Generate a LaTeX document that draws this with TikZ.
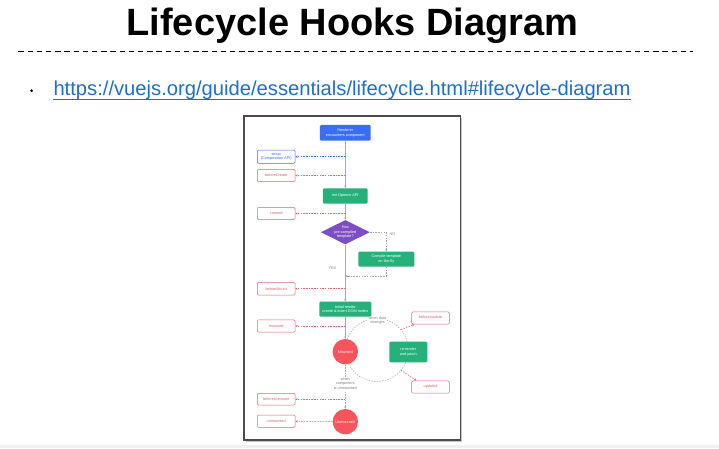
\documentclass[tikz,border=0pt]{standalone}
\usepackage{fontspec}
\setmainfont{Liberation Sans}
\usetikzlibrary{shapes.geometric,arrows.meta}
\definecolor{vueblue}{RGB}{59,108,244}
\definecolor{vuegreen}{RGB}{38,176,122}
\definecolor{vuepurple}{RGB}{124,77,196}
\definecolor{vuered}{RGB}{248,84,92}
\definecolor{hookred}{RGB}{226,100,108}
\definecolor{linegray}{RGB}{160,170,180}
\definecolor{urlblue}{RGB}{30,110,205}
\begin{document}
\begin{tikzpicture}[x=1pt,y=-1pt,>={Stealth[length=2.4pt,width=2.2pt]},
    tiny/.style={font=\fontsize{3.8}{4.5}\selectfont, align=center, inner sep=0pt},
    hookbox/.style={tiny, draw=hookred, fill=white, text=hookred, line width=0.5pt,
        rounded corners=1.2pt, minimum width=37.7pt, minimum height=12.4pt},
    setupbox/.style={hookbox, draw=vueblue, text=vueblue},
    stepbox/.style={tiny, fill=#1, text=white, rounded corners=1.2pt},
    statecirc/.style={tiny, circle, fill=vuered, text=white, minimum size=25.4pt},
    mainline/.style={draw=linegray, line width=0.6pt, ->},
    grayline/.style={draw=linegray, line width=0.5pt, dash pattern=on 1.5pt off 1.2pt},
    hookline/.style={draw=hookred, line width=0.5pt, dash pattern=on 1.5pt off 1.2pt, ->},
    note/.style={tiny, text=gray, fill=white, inner sep=0.6pt}]
    \useasboundingbox (0,0) rectangle (719,448);
    \fill[gray!12] (0,445) rectangle (719,448);
    % slide heading
    \node[font=\fontsize{38}{40}\selectfont\bfseries, anchor=base] (title) at (352.5,35.7) {Lifecycle Hooks Diagram};
    \draw[line width=1.3pt, dash pattern=on 5.5pt off 3.7pt] (18.3,51.7) -- (693,51.7);
    \fill (31.7,90.7) circle (1.5pt);
    \node[font=\fontsize{20.2}{24}\selectfont, text=urlblue, anchor=base west, inner sep=0pt] (url) at (53.3,95)
        {https://vuejs.org/guide/essentials/lifecycle.html\#lifecycle-diagram};
    \draw[urlblue, line width=0.9pt] ([yshift=-4.3pt]url.base west) -- ([yshift=-4.3pt]url.base east);
    % picture frame
    \fill[gray!45] (245.5,117.5) rectangle (462.2,441.5);
    \draw[fill=white, draw=black!70, line width=1.1pt] (244,116) rectangle (460.7,440);
    % update cycle
    \coordinate (cyclemid) at (376.8,350);
    \draw[grayline] (cyclemid) circle (31.5pt);
    \node[note] (datalbl) at (377.5,320.5) {when data\\changes};
    % steps
    \node[stepbox=vueblue, minimum width=50.7pt, minimum height=15.7pt] (renderer) at (345.3,132.8) {Renderer\\encounters component};
    \node[setupbox, minimum height=13.3pt] (setup) at (276.2,156.7) {setup\\(Composition API)};
    \node[hookbox] (beforecreate) at (276.2,175.5) {beforeCreate};
    \node[stepbox=vuegreen, minimum width=44.7pt, minimum height=15.4pt] (initapi) at (345.3,196) {Init Options API};
    \node[hookbox] (created) at (276.2,213.5) {created};
    \node[tiny, diamond, aspect=2, fill=vuepurple, text=white, minimum width=49pt, minimum height=24.3pt] (hastpl) at (345.3,232.2) {Has\\pre-compiled\\template?};
    \node[stepbox=vuegreen, minimum width=56pt, minimum height=15pt] (compile) at (386.3,259.2) {Compile template\\on-the-fly};
    \coordinate (rejoin) at (345.3,276);
    \node[hookbox, minimum height=12.7pt] (beforemount) at (276.2,288.7) {beforeMount};
    \node[stepbox=vuegreen, minimum width=52pt, minimum height=15pt] (initrender) at (345.3,309.2) {Initial render\\create \& insert DOM nodes};
    \node[hookbox] (mountedhook) at (276.2,326) {mounted};
    \node[statecirc] (mountedst) at (345.3,351.7) {Mounted};
    \node[stepbox=vuegreen, minimum width=38pt, minimum height=20.6pt] (rerender) at (408.3,352) {re-render\\and patch};
    \node[hookbox] (beforeupdate) at (430.5,318) {beforeUpdate};
    \node[hookbox] (updated) at (430.5,387) {updated};
    \node[hookbox, minimum height=11.7pt] (beforeunmount) at (276.2,399.2) {beforeUnmount};
    \node[statecirc] (unmountedst) at (345.3,421.7) {Unmounted};
    \node[hookbox] (unmountedhook) at (276.2,421.2) {unmounted};
    % main flow
    \draw[mainline] (renderer) -- (initapi);
    \draw[mainline] (initapi) -- (hastpl);
    \draw[mainline] (hastpl) -- node[tiny, text=gray, pos=0.42, xshift=-13pt] {YES} (initrender);
    \draw[mainline] (initrender) -- (mountedst);
    \draw[grayline, ->] (hastpl.east) -| node[tiny, text=gray, pos=0.5, anchor=north west, xshift=3pt] {NO} (compile.north);
    \draw[grayline, ->] (compile.south) |- (rejoin);
    \draw[grayline, ->] (mountedst) -- node[note, pos=0.42] {when\\component\\is unmounted} (unmountedst);
    % hooks
    \draw[hookline, draw=vueblue] (renderer |- setup) -- (setup);
    \draw[hookline] (renderer |- beforecreate) -- (beforecreate);
    \draw[hookline] (renderer |- created) -- (created);
    \draw[hookline] (renderer |- beforemount) -- (beforemount);
    \draw[hookline] (renderer |- mountedhook) -- (mountedhook);
    \draw[hookline] (renderer |- beforeunmount) -- (beforeunmount);
    \draw[hookline] (unmountedst) -- (unmountedhook);
    \coordinate (updfrom) at ([shift={(40:31.5pt)}]cyclemid);
    \coordinate (updone) at ([shift={(-40:31.5pt)}]cyclemid);
    \draw[hookline] (updfrom) -- ([xshift=3pt]beforeupdate.south west);
    \draw[hookline] (updone) -- ([xshift=5pt]updated.north west);
\end{tikzpicture}
\end{document}
